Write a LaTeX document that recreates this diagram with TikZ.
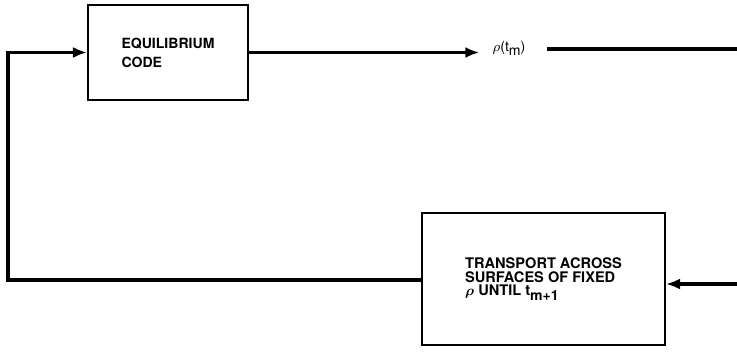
\documentclass[tikz,border=0pt]{standalone}
\usepackage{amsmath,bm}
\usepackage{fontspec}
\setmainfont{TeX Gyre Heros}
\usetikzlibrary{arrows.meta}

\newcommand*{\lowsub}[1]{\raisebox{-0.55ex}{\footnotesize #1}}

\begin{document}
\begin{tikzpicture}
[
	x=0.02cm,
	y=-0.02cm,
	block/.style={draw,line width=1.2pt,align=left,inner sep=0pt,font=\bfseries\fontsize{8}{10.8}\selectfont},
	flow/.style={line width=2pt},
	tip/.style={-{Latex[length=2.8mm,width=2.2mm]}}
]

	\useasboundingbox (0,0) rectangle (737,355);

	% boxes
	\node[block,minimum width=3.2cm,minimum height=1.9cm] at (168,52.5) (equil) {EQUILIBRIUM\\CODE};
	\node[block,minimum width=4.86cm,minimum height=2.64cm,font=\bfseries\fontsize{8.3}{7.8}\selectfont] at (543.5,279) (transport)
	  {TRANSPORT ACROSS\\SURFACES OF FIXED\\$\bm{\rho}$ UNTIL t\lowsub{m+1}};

	% output label
	\node[inner sep=0pt,font=\fontsize{8}{10}\selectfont] at (509,48) (rho) {$\rho$(t\lowsub{m})};

	% free ends
	\coordinate (outR) at (737,49);
	\coordinate (inR) at (737,284);
	\coordinate (back) at (8,280);

	% connectors
	\draw[flow,tip,shorten >=0.26cm] (equil.east) -- (rho.west |- equil.east);
	\draw[flow,shorten <=0.42cm] (rho.east |- outR) -- (outR);
	\draw[flow,tip] (inR) -- (transport.east |- inR);
	\draw[flow,tip]
	  (transport.west |- back) -- (back) -- (back |- equil.west) -- (equil.west)
	;

\end{tikzpicture}
\end{document}
